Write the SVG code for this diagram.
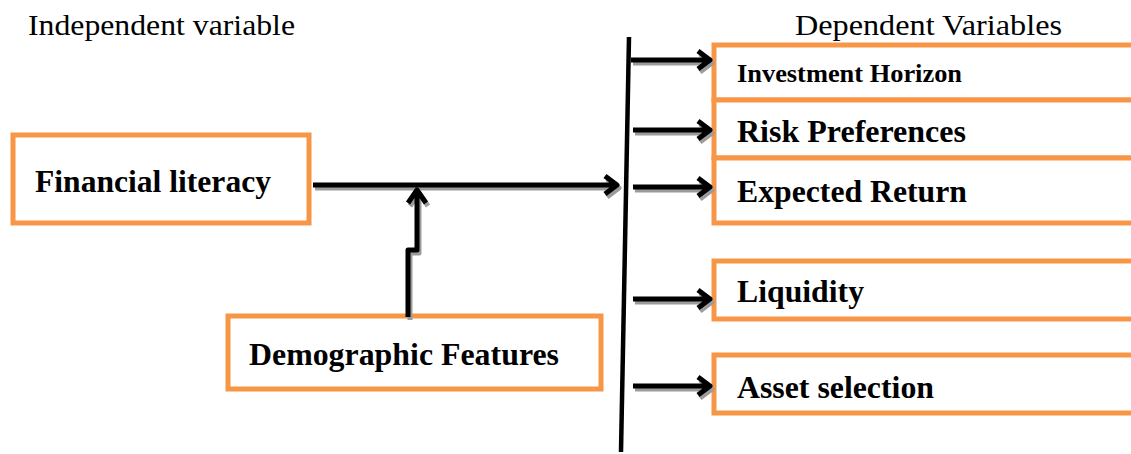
<svg xmlns="http://www.w3.org/2000/svg" xmlns:xlink="http://www.w3.org/1999/xlink" width="1131" height="454" viewBox="0 0 1131 454">
<style>
.box{fill:#ffffff;stroke:#F79646;stroke-width:5}
.hdr{font-family:"Liberation Serif","Times New Roman",serif;font-size:30px;fill:#000}
.lbl{font-family:"Liberation Serif","Times New Roman",serif;font-size:31px;font-weight:bold;fill:#000}
.sm{font-size:25px}
.conn{fill:none;stroke-width:5;stroke-linejoin:round;stroke-linecap:butt}
.shadow{stroke:#9b9b9b}
.main{stroke:#000}
</style>
<defs>
<g id="conn-paths">
<path d="M313,185 H616 M605,176 L617,185 L605,194"/>
<path d="M408,317 V250 H417 V190 M408,203 L417,190 L426,203"/>
<path d="M631,60 H709 M698,51 L710,60 L698,69"/>
<path d="M633,130 H709 M698,121 L710,130 L698,139"/>
<path d="M633,187 H709 M698,178 L710,187 L698,196"/>
<path d="M633,299 H709 M698,290 L710,299 L698,308"/>
<path d="M633,386 H709 M698,377 L710,386 L698,395"/>
</g>
</defs>
<g id="headers">
<text class="hdr" x="28" y="35" textLength="267" lengthAdjust="spacingAndGlyphs">Independent variable</text>
<text class="hdr" x="795" y="35" textLength="267" lengthAdjust="spacingAndGlyphs">Dependent Variables</text>
</g>
<g id="node-financial-literacy">
<rect class="box" x="13" y="135" width="296" height="88"/>
<text class="lbl" x="35" y="192" textLength="236" lengthAdjust="spacingAndGlyphs">Financial literacy</text>
</g>
<g id="node-demographic-features">
<rect class="box" x="228" y="316" width="373" height="73"/>
<text class="lbl" x="249" y="365" textLength="310" lengthAdjust="spacingAndGlyphs">Demographic Features</text>
</g>
<g id="node-investment-horizon">
<rect class="box" x="714" y="45" width="430" height="55"/>
<text class="lbl sm" x="737" y="82" textLength="225" lengthAdjust="spacingAndGlyphs">Investment Horizon</text>
</g>
<g id="node-risk-preferences">
<rect class="box" x="714" y="100" width="430" height="58"/>
<text class="lbl" x="737" y="142" textLength="229" lengthAdjust="spacingAndGlyphs">Risk Preferences</text>
</g>
<g id="node-expected-return">
<rect class="box" x="714" y="158" width="430" height="65"/>
<text class="lbl" x="737" y="202" textLength="230" lengthAdjust="spacingAndGlyphs">Expected Return</text>
</g>
<g id="node-liquidity">
<rect class="box" x="714" y="261" width="430" height="58"/>
<text class="lbl" x="737" y="302" textLength="127" lengthAdjust="spacingAndGlyphs">Liquidity</text>
</g>
<g id="node-asset-selection">
<rect class="box" x="714" y="355" width="430" height="58"/>
<text class="lbl" x="737" y="398" textLength="197" lengthAdjust="spacingAndGlyphs">Asset selection</text>
</g>
<g id="connectors">
<use xlink:href="#conn-paths" class="conn shadow" transform="translate(2,3)"/>
<use xlink:href="#conn-paths" class="conn main"/>
<line x1="629" y1="37" x2="621" y2="452" stroke="#000" stroke-width="4.5"/>
</g>
</svg>
